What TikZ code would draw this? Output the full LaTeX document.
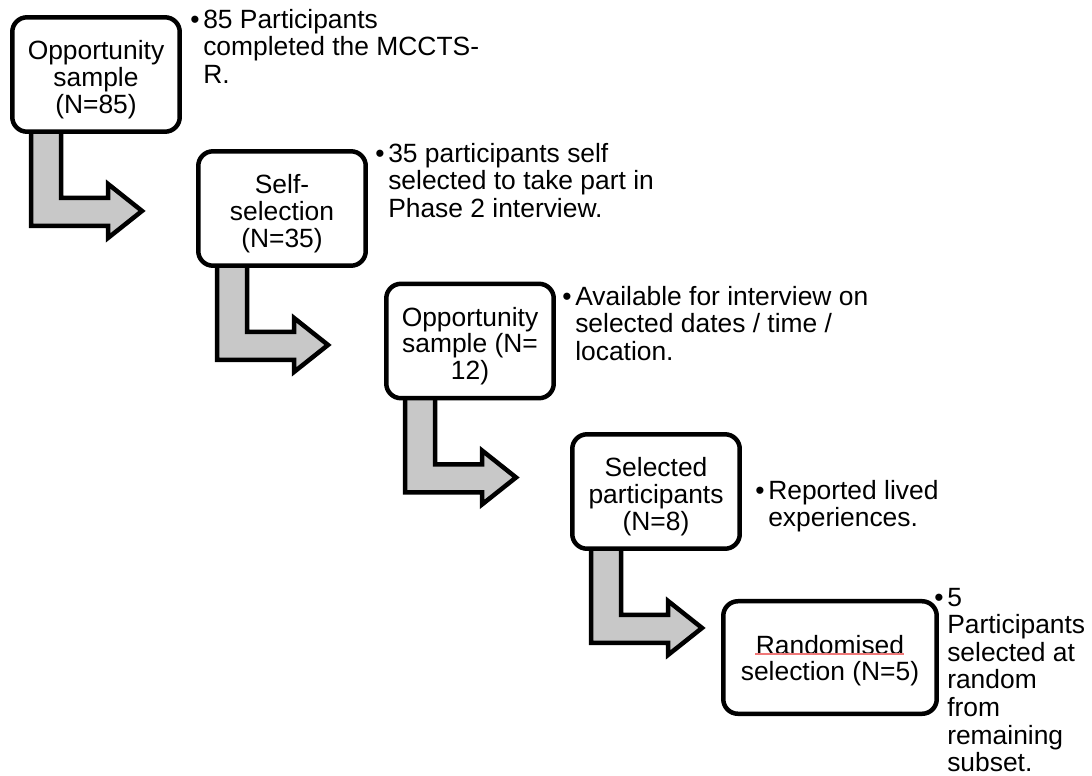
\documentclass[tikz,border=0pt]{standalone}
\usepackage{fontspec}
\setmainfont{Liberation Sans}
\usetikzlibrary{calc,backgrounds}
\definecolor{arrowgray}{RGB}{200,200,200}
\definecolor{squigred}{RGB}{240,120,120}
\newcommand\notefont{\fontsize{19.8}{20.7}\selectfont}
\newcommand\boxfont{\fontsize{19.8}{20}\selectfont}
\newcommand\bul{\makebox[9.75pt][l]{•}}
\newcommand\ind{\hspace*{9.75pt}}
\begin{document}
\begin{tikzpicture}[x=0.75pt,y=-0.75pt,
  box/.style={draw=black, line width=3.375pt, rounded corners=11pt, fill=white,
    minimum width=125.6pt, minimum height=85.8pt, align=center, inner sep=0pt,
    font=\boxfont},
  bendarrow/.style={draw=black, line width=3.375pt, fill=arrowgray, line join=miter},
  note/.style={anchor=base west, inner sep=0pt, font=\notefont},
  squiggle/.style={draw=squigred, line width=0.9pt}]
\useasboundingbox (0,0) rectangle (1092,775);

% boxes
\node[box] (b1) at (96,74.5) {\rule{0pt}{22pt}Opportunity\\sample\\(N=85)};
\node[box] (b2) at (282,208.5) {\rule{0pt}{22pt}Self-\\selection\\(N=35)};
\node[box] (b3) at (470,341) {\rule{0pt}{22pt}Opportunity\\sample (N=\\12)};
\node[box] (b4) at (656,491.5) {\rule{0pt}{22pt}Selected\\participants\\(N=8)};
\node[box, minimum width=160.1pt, minimum height=84.4pt] (b5) at (830,657.5) {\rule{0pt}{19pt}Randomised\\selection (N=5)};

% spell-check underline under "Randomised"
\coordinate (sq) at ($(b5.center)+(-75,-3.5)$);
\draw[squiggle] (sq) -- ++(149,0);

% bent arrows
\begin{pgfonlayer}{background}
\foreach \s in {b1,b2,b3,b4}{
  \draw[bendarrow, shift={(\s.south west)}]
    (21,-10) -- (21,92) -- (98,92) -- (98,104) -- (132,77) -- (98,50)
    -- (98,64) -- (51,64) -- (51,-10) -- cycle;
}
\end{pgfonlayer}

% notes
\node[note] (n1) at (190,28) {\begin{tabular}[t]{@{}l@{}}\bul 85 Participants\\\ind completed the MCCTS-\\\ind R.\end{tabular}};
\node[note] (n2) at (375,162) {\begin{tabular}[t]{@{}l@{}}\bul 35 participants self\\\ind selected to take part in\\\ind Phase 2 interview.\end{tabular}};
\node[note] (n3) at (562,305) {\begin{tabular}[t]{@{}l@{}}\bul Available for interview on\\\ind selected dates / time /\\\ind location.\end{tabular}};
\node[note] (n4) at (755,499) {\begin{tabular}[t]{@{}l@{}}\bul Reported lived\\\ind experiences.\end{tabular}};
\node[note] (n5) at (934,606) {\begin{tabular}[t]{@{}l@{}}\bul 5\\\ind Participants\\\ind selected at\\\ind random\\\ind from\\\ind remaining\\\ind subset.\end{tabular}};
\end{tikzpicture}
\end{document}
